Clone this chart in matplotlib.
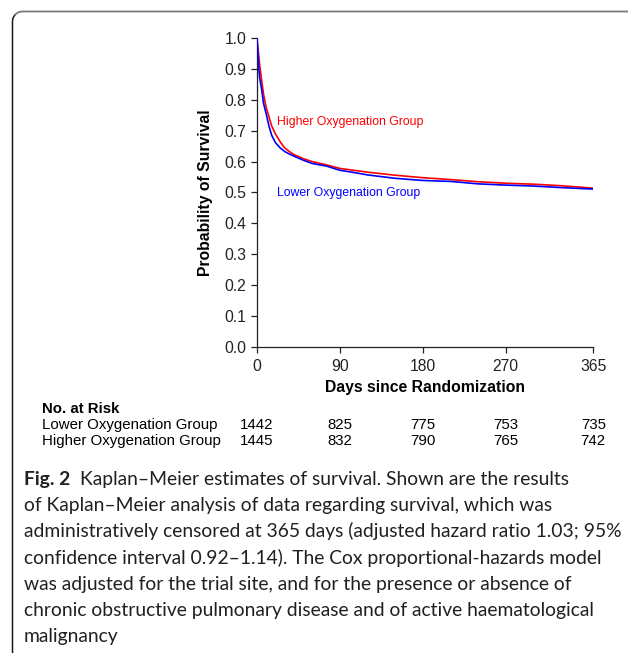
import numpy as np
import matplotlib
matplotlib.use("Agg")
import matplotlib.pyplot as plt
from matplotlib.lines import Line2D
from matplotlib.transforms import blended_transform_factory

# ---------------- data ----------------
days = [0, 1, 2, 3, 5, 7, 10, 13, 16, 20, 25, 30, 35, 40, 50, 60, 75, 90,
        105, 120, 150, 180, 210, 240, 270, 300, 330, 365]
surv_higher = [1.0, 0.97, 0.94, 0.91, 0.865, 0.82, 0.775, 0.745, 0.715, 0.69,
               0.665, 0.645, 0.633, 0.623, 0.61, 0.60, 0.59, 0.578, 0.572,
               0.566, 0.556, 0.548, 0.542, 0.535, 0.530, 0.527, 0.522, 0.514]
surv_lower = [1.0, 0.95, 0.90, 0.87, 0.835, 0.79, 0.755, 0.715, 0.685, 0.662,
              0.645, 0.633, 0.625, 0.618, 0.605, 0.594, 0.586, 0.572, 0.565,
              0.557, 0.546, 0.539, 0.536, 0.528, 0.524, 0.521, 0.516, 0.511]

x_ticks = [0, 90, 180, 270, 365]
y_ticks = [0.0, 0.1, 0.2, 0.3, 0.4, 0.5, 0.6, 0.7, 0.8, 0.9, 1.0]

risk_days = [0, 90, 180, 270, 365]
risk_lower = [1442, 825, 775, 753, 735]
risk_higher = [1445, 832, 790, 765, 742]

label_lower = "Lower Oxygenation Group"
label_higher = "Higher Oxygenation Group"

caption_bold = "Fig. 2"
caption_lines = [
    "Kaplan\u2013Meier estimates of survival. Shown are the results",
    "of Kaplan\u2013Meier analysis of data regarding survival, which was",
    "administratively censored at 365 days (adjusted hazard ratio 1.03; 95%",
    "confidence interval 0.92\u20131.14). The Cox proportional-hazards model",
    "was adjusted for the trial site, and for the presence or absence of",
    "chronic obstructive pulmonary disease and of active haematological",
    "malignancy",
]

# ---------------- figure ----------------
W, H = 628, 653
fig = plt.figure(figsize=(W / 100, H / 100), dpi=100)
plt.rcParams['font.family'] = ['Liberation Sans', 'DejaVu Sans']


def fx(px):
    return px / W


def fy(py):
    return 1 - py / H


ax_l, ax_r, ax_t, ax_b = 257, 593.3, 38.3, 346.7
ax = fig.add_axes([fx(ax_l), fy(ax_b), (ax_r - ax_l) / W, (ax_b - ax_t) / H])

ax.plot(days, surv_higher, color='#ff0000', lw=1.2, zorder=3)
ax.plot(days, surv_lower, color='#0000ff', lw=1.2, zorder=4)

ax.set_xlim(0, 365)
ax.set_ylim(0, 1.0)
ax.set_xticks(x_ticks)
ax.set_xticklabels([str(v) for v in x_ticks])
ax.set_yticks(y_ticks)
ax.set_yticklabels([f"{v:.1f}" for v in y_ticks])
for s in ['top', 'right']:
    ax.spines[s].set_visible(False)
for s in ['left', 'bottom']:
    ax.spines[s].set_linewidth(0.9)
    ax.spines[s].set_color('#222222')
ax.tick_params(axis='both', direction='out', length=4.5, width=0.9,
               labelsize=11.3, color='#222222', labelcolor='#222222')
ax.tick_params(axis='y', pad=3)
ax.tick_params(axis='x', pad=4)

ax.set_xlabel("Days since Randomization", fontsize=11.3, fontweight='bold',
              labelpad=5)
ax.set_ylabel("Probability of Survival", fontsize=11.3, fontweight='bold',
              labelpad=8)

ax.text(22, 0.729, label_higher, color='#ff0000', fontsize=8.8,
        ha='left', va='center')
ax.text(22, 0.497, label_lower, color='#0000ff', fontsize=8.8,
        ha='left', va='center')

# ---------------- risk table ----------------
tr = blended_transform_factory(ax.transData, fig.transFigure)
fig.text(fx(42), fy(409), "No. at Risk", fontsize=10.8, fontweight='bold',
         ha='left', va='center')
fig.text(fx(42), fy(425), label_lower, fontsize=10.8, ha='left', va='center')
fig.text(fx(42), fy(441), label_higher, fontsize=10.8, ha='left', va='center')
for d, n in zip(risk_days, risk_lower):
    ax.text(d, fy(425), str(n), transform=tr, fontsize=10.8, ha='center',
            va='center', clip_on=False)
for d, n in zip(risk_days, risk_higher):
    ax.text(d, fy(441), str(n), transform=tr, fontsize=10.8, ha='center',
            va='center', clip_on=False)

# ---------------- caption ----------------
cap_font = ['Lato', 'DejaVu Sans']
cap_color = '#231f20'
cap_left = 24
cap_right = 620
cap_y0 = 485
cap_dy = 26.2

fig.canvas.draw()
renderer = fig.canvas.get_renderer()
probe = fig.text(0, 0, caption_lines[2], fontsize=12, family=cap_font)
w = probe.get_window_extent(renderer).width
probe.remove()
cap_size = 12 * (cap_right - cap_left) / w

tb = fig.text(fx(cap_left), fy(cap_y0), caption_bold, fontsize=cap_size,
              family=cap_font, fontweight='bold', color=cap_color,
              ha='left', va='baseline')
bw = tb.get_window_extent(renderer).width
for i, line in enumerate(caption_lines):
    x0 = cap_left + (bw + 0.5 * cap_size * 100 / 72 if i == 0 else 0)
    fig.text(fx(x0), fy(cap_y0 + i * cap_dy), line, fontsize=cap_size,
             family=cap_font, color=cap_color, ha='left', va='baseline')

# ---------------- frame ----------------
r = 10
bx, by = 12.5, 11.5
theta = np.linspace(np.pi, np.pi / 2, 20)
arc_x = bx + r + r * np.cos(theta)
arc_y = by + r - r * np.sin(theta)
left_x = np.concatenate([[bx], arc_x[:10]])
left_y = np.concatenate([[H], arc_y[:10]])
top_x = np.concatenate([arc_x[9:], [W]])
top_y = np.concatenate([arc_y[9:], [by]])
fig.add_artist(Line2D(fx(left_x), fy(left_y), transform=fig.transFigure,
                      color='#1a1a1a', lw=1.1))
fig.add_artist(Line2D(fx(top_x), fy(top_y), transform=fig.transFigure,
                      color='#7a7a7a', lw=1.3))

fig.savefig("out.png", dpi=100)
